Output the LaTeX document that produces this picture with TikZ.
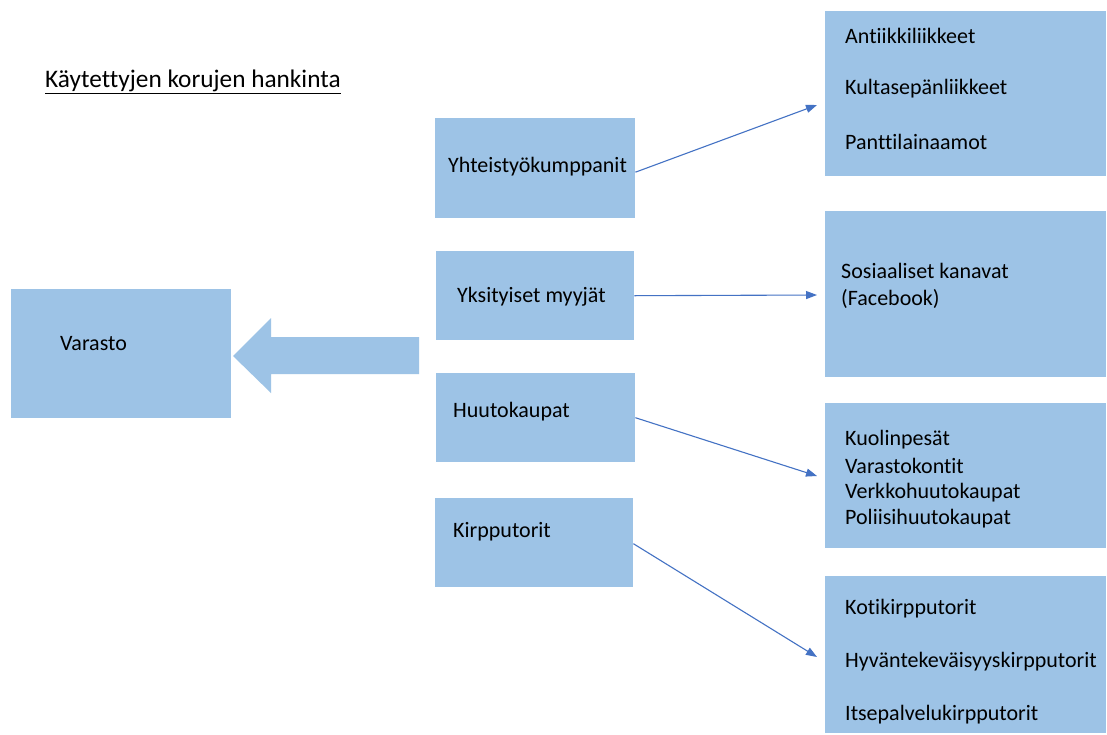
\documentclass[tikz,border=0pt]{standalone}
\usepackage{fontspec}
\setmainfont{Carlito}[RawFeature=-liga]
\usetikzlibrary{arrows.meta}
\definecolor{boxblue}{HTML}{9DC3E6}
\definecolor{linkblue}{HTML}{4472C4}
\begin{document}
\begin{tikzpicture}[x=1pt,y=-1pt,
  box/.style={fill=boxblue,draw=none,inner sep=0pt,anchor=north west},
  txt/.style={anchor=west,inner sep=0pt,yshift=-2pt,font=\fontsize{22}{26.3}\selectfont,text=black,align=left},
  link/.style={draw=linkblue,line width=1.1pt,-{Triangle[length=11pt,width=8pt]}}]
\useasboundingbox (0,0) rectangle (1107,734);
\fill[white] (0,0) rectangle (1107,734);
% title
\node[txt,font=\fontsize{25.3}{30}\selectfont] (title) at (45,80) {\underline{Käytettyjen korujen hankinta}};
% left box
\node[box,minimum width=220pt,minimum height=129pt] (varasto) at (11,289) {};
\node[txt] (varastot) at (60,342) {Varasto};
% big arrow
\fill[boxblue] (233,356) -- (271,318) -- (271,337) -- (419,337) -- (419,374) -- (271,374) -- (271,393) -- cycle;
% middle boxes
\node[box,minimum width=200pt,minimum height=100pt] (m1) at (435,118) {};
\node[txt] at (448,165) {Yhteistyökumppanit};
\node[box,minimum width=198pt,minimum height=89pt] (m2) at (436,251) {};
\node[txt] at (457,295) {Yksityiset myyjät};
\node[box,minimum width=199pt,minimum height=89pt] (m3) at (436,373) {};
\node[txt] at (453,410) {Huutokaupat};
\node[box,minimum width=198pt,minimum height=89pt] (m4) at (435,498) {};
\node[txt] at (453,530) {Kirpputorit};
% right boxes
\node[box,minimum width=281pt,minimum height=165pt] (r1) at (825,11) {};
\node[txt] at (845,34) {Antiikkiliikkeet};
\node[txt] at (845,87) {Kultasepänliikkeet};
\node[txt] at (845,140) {Panttilainaamot};
\node[box,minimum width=281pt,minimum height=166pt] (r2) at (825,211) {};
\node[txt] at (841,284) {Sosiaaliset kanavat\\(Facebook)};
\node[box,minimum width=281pt,minimum height=145pt] (r3) at (825,403) {};
\node[txt] at (845,438) {Kuolinpesät};
\node[txt] at (845,464) {Varastokontit};
\node[txt] at (845,491) {Verkkohuutokaupat};
\node[txt] at (845,517) {Poliisihuutokaupat};
\node[box,minimum width=281pt,minimum height=157pt] (r4) at (825,576) {};
\node[txt] at (845,607) {Kotikirpputorit};
\node[txt] at (845,660) {Hyväntekeväisyyskirpputorit};
\node[txt] at (845,713) {Itsepalvelukirpputorit};
% connector ends
\coordinate (e1) at (817,105);
\coordinate (e2) at (817,295);
\coordinate (e3) at (817,476);
\coordinate (e4) at (817,657);
\draw[link] ([yshift=-4pt]m1.east) -- (e1);
\draw[link] (m2.east) -- (e2);
\draw[link] (m3.east) -- (e3);
\draw[link] ([yshift=-1pt]m4.east) -- (e4);
\end{tikzpicture}
\end{document}
